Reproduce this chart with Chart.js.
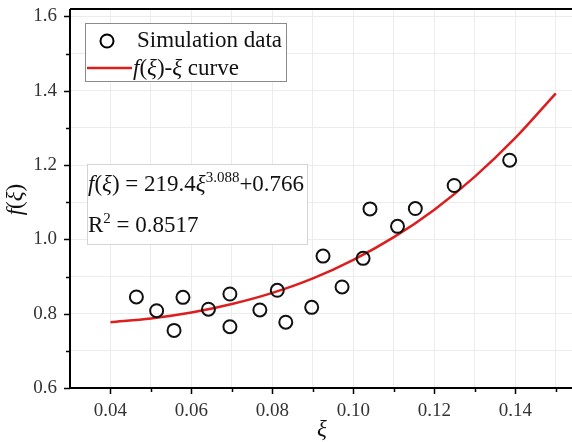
<!DOCTYPE html>
<html>
<head>
<meta charset="utf-8">
<script src="https://cdn.jsdelivr.net/npm/chart.js@4.4.1/dist/chart.umd.min.js"></script>
<style>
html,body{margin:0;padding:0;background:#fff;overflow:hidden;}
#wrap{position:relative;width:572px;height:442px;}
</style>
</head>
<body>
<div id="wrap"><canvas id="c" width="572" height="442"></canvas></div>
<script>
// ---- data ----
const xSim = [0.0464,0.0514,0.0557,0.0579,0.0642,0.0695,0.0695,0.0769,0.0812,0.0833,0.0897,0.0925,0.0972,0.1024,0.1041,0.1109,0.1153,0.1249,0.1386];
const ySim = [0.845,0.808,0.755,0.844,0.812,0.853,0.765,0.810,0.863,0.777,0.817,0.955,0.872,0.949,1.082,1.035,1.083,1.145,1.213];
const xCurve = [0.04,0.05,0.06,0.07,0.08,0.09,0.10,0.11,0.12,0.13,0.14,0.15];
const yCurve = [0.777,0.787,0.803,0.826,0.856,0.895,0.945,1.006,1.080,1.169,1.273,1.393];
const xTickLabels = ['0.04','0.06','0.08','0.10','0.12','0.14'];
const yTickLabels = ['0.6','0.8','1.0','1.2','1.4','1.6'];
const legendLabels = ['Simulation data', 'curve'];
const eqText = {coef:'219.4', exp:'3.088', c:'+0.766', r2:'0.8517'};

const SERIF = '"Liberation Serif","Times New Roman",serif';
const RED = '#dc1e1e';

function richText(ctx, x, y, segs) {
  let cx = x;
  for (const s of segs) {
    ctx.font = s.font;
    ctx.fillText(s.t, cx, y - (s.dy || 0));
    cx += ctx.measureText(s.t).width;
  }
  return cx;
}
function richWidth(ctx, segs) {
  let w = 0;
  for (const s of segs) { ctx.font = s.font; w += ctx.measureText(s.t).width; }
  return w;
}

const deco = {
  id: 'deco',
  afterDraw(chart) {
    const ctx = chart.ctx;
    const a = chart.chartArea;
    const xs = chart.scales.x, ys = chart.scales.y;
    ctx.save();
    ctx.strokeStyle = '#000';
    ctx.lineWidth = 2;
    // frame lines
    ctx.beginPath();
    ctx.moveTo(a.left, a.top); ctx.lineTo(a.right, a.top);
    ctx.moveTo(a.left, a.top); ctx.lineTo(a.left, a.bottom);
    ctx.moveTo(a.left, a.bottom); ctx.lineTo(a.right, a.bottom);
    ctx.stroke();
    // tick marks
    ctx.lineWidth = 1.5;
    ctx.beginPath();
    xs.ticks.forEach(t => {
      const v = t.value;
      if (Math.abs(v - xs.min) < 1e-6) return;
      const major = Math.round(v * 100) % 2 === 0;
      const px = Math.round(xs.getPixelForValue(v)) + 0.5;
      ctx.moveTo(px, a.bottom); ctx.lineTo(px, a.bottom + (major ? 6 : 4));
    });
    ys.ticks.forEach(t => {
      const v = t.value;
      const major = Math.round(v * 10) % 2 === 0;
      const py = Math.round(ys.getPixelForValue(v)) + 0.5;
      ctx.moveTo(a.left, py); ctx.lineTo(a.left - (major ? 6 : 4), py);
    });
    ctx.stroke();

    ctx.fillStyle = '#111';
    ctx.textBaseline = 'alphabetic';
    ctx.textAlign = 'left';
    // axis titles
    const tf = 23;
    ctx.font = 'italic ' + tf + 'px ' + SERIF;
    const xt = 'ξ';
    const xtw = ctx.measureText(xt).width;
    ctx.fillText(xt, 322 - xtw / 2, 436);
    const ySegs = [{t:'f', font:'italic ' + tf + 'px ' + SERIF}, {t:'(', font: tf + 'px ' + SERIF},
                   {t:'ξ', font:'italic ' + tf + 'px ' + SERIF}, {t:')', font: tf + 'px ' + SERIF}];
    ctx.save();
    ctx.translate(22, (a.top + a.bottom) / 2 + 1);
    ctx.rotate(-Math.PI / 2);
    richText(ctx, -richWidth(ctx, ySegs) / 2, 0, ySegs);
    ctx.restore();

    // legend box
    ctx.fillStyle = '#fff';
    ctx.fillRect(85, 23, 201, 58);
    ctx.strokeStyle = '#8a8a8a';
    ctx.lineWidth = 1;
    ctx.strokeRect(85.5, 23.5, 201, 58);
    ctx.strokeStyle = '#000';
    ctx.lineWidth = 2;
    ctx.beginPath(); ctx.arc(107, 41, 6.5, 0, Math.PI * 2); ctx.stroke();
    ctx.strokeStyle = RED;
    ctx.lineWidth = 2.5;
    ctx.beginPath(); ctx.moveTo(87, 68); ctx.lineTo(132, 68); ctx.stroke();
    ctx.fillStyle = '#111';
    const lf = 23;
    const R = lf + 'px ' + SERIF, I = 'italic ' + lf + 'px ' + SERIF;
    ctx.font = R;
    ctx.fillText(legendLabels[0], 137, 47);
    richText(ctx, 133, 75, [
      {t:'f', font:I}, {t:'(', font:R}, {t:'ξ', font:I}, {t:')-', font:R}, {t:'ξ', font:I},
      {t:' ' + legendLabels[1], font:R}
    ]);

    // equation box
    ctx.fillStyle = '#fff';
    ctx.fillRect(87, 164, 220, 80);
    ctx.strokeStyle = '#d4d4d4';
    ctx.lineWidth = 1;
    ctx.strokeRect(87.5, 164.5, 220, 80);
    ctx.fillStyle = '#111';
    const ef = 23, sf = 15;
    const ER = ef + 'px ' + SERIF, EI = 'italic ' + ef + 'px ' + SERIF, SR = sf + 'px ' + SERIF;
    richText(ctx, 88, 191, [
      {t:'f', font:EI}, {t:'(', font:ER}, {t:'ξ', font:EI},
      {t:') = ' + eqText.coef, font:ER}, {t:'ξ', font:EI},
      {t:eqText.exp, font:SR, dy: 9},
      {t:eqText.c, font:ER}
    ]);
    richText(ctx, 88, 232, [
      {t:'R', font:ER},
      {t:'2', font:SR, dy: 9},
      {t:' = ' + eqText.r2, font:ER}
    ]);
    ctx.restore();
  }
};

new Chart(document.getElementById('c'), {
  data: {
    datasets: [
      {
        type: 'line',
        label: 'curve',
        data: xCurve.map((x, i) => ({x, y: yCurve[i]})),
        borderColor: RED,
        borderWidth: 2.5,
        pointRadius: 0,
        cubicInterpolationMode: 'monotone',
        fill: false,
        order: 2
      },
      {
        type: 'scatter',
        label: 'Simulation data',
        data: xSim.map((x, i) => ({x, y: ySim[i]})),
        pointStyle: 'circle',
        pointRadius: 6.5,
        pointHoverRadius: 6.5,
        borderColor: '#111',
        borderWidth: 2,
        backgroundColor: 'rgba(0,0,0,0)',
        order: 1
      }
    ]
  },
  options: {
    responsive: false,
    animation: false,
    events: [],
    layout: {autoPadding: false, padding: {top: 9, right: 0, left: 0, bottom: 0}},
    plugins: {legend: {display: false}, tooltip: {enabled: false}},
    scales: {
      x: {
        type: 'linear',
        min: 0.03,
        max: 0.154,
        afterBuildTicks(s) {
          const t = [];
          for (let k = 3; k <= 15; k++) t.push({value: k / 100});
          s.ticks = t;
        },
        afterFit(s) { s.height = 54; s.paddingLeft = 0; s.paddingRight = 0; },
        ticks: {
          autoSkip: false,
          maxRotation: 0,
          padding: 12,
          color: '#333',
          font: {family: SERIF, size: 19},
          callback(v) {
            const k = Math.round(v * 100);
            if (k % 2 !== 0 || k < 4) return '';
            return xTickLabels[(k - 4) / 2] || '';
          }
        },
        grid: {color: '#ececec', lineWidth: 1, drawTicks: false},
        border: {display: false}
      },
      y: {
        type: 'linear',
        min: 0.6,
        max: 1.62,
        afterBuildTicks(s) {
          const t = [];
          for (let k = 6; k <= 16; k++) t.push({value: k / 10});
          s.ticks = t;
        },
        afterFit(s) { s.width = 70; s.paddingTop = 0; s.paddingBottom = 0; },
        ticks: {
          autoSkip: false,
          padding: 13,
          color: '#333',
          font: {family: SERIF, size: 19},
          callback(v) {
            const k = Math.round(v * 10);
            if (k % 2 !== 0) return '';
            return yTickLabels[(k - 6) / 2] || '';
          }
        },
        grid: {color: '#ececec', lineWidth: 1, drawTicks: false},
        border: {display: false}
      }
    }
  },
  plugins: [deco]
});
</script>
</body>
</html>
